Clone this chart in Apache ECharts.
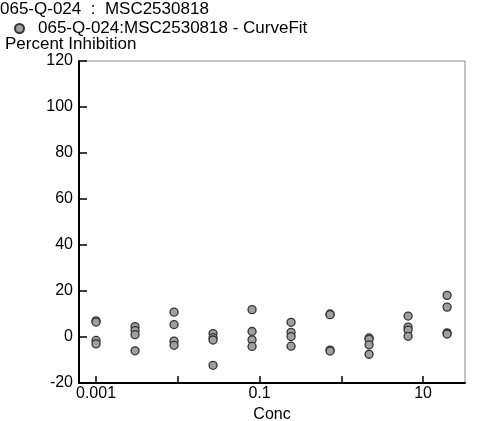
<!DOCTYPE html>
<html>
<head>
<meta charset="utf-8">
<script src="https://cdn.jsdelivr.net/npm/echarts@6/dist/echarts.min.js"></script>
<style>
html,body{margin:0;padding:0;background:#fff;}
#chart{width:500px;height:421px;}
</style>
</head>
<body>
<div id="chart"></div>
<script>
// Data
var titleText = '065-Q-024  :  MSC2530818';
var seriesName = '065-Q-024:MSC2530818 - CurveFit';
var yAxisTitle = 'Percent Inhibition';
var xAxisTitle = 'Conc';
var conc = [0.001, 0.003, 0.009, 0.027, 0.081, 0.243, 0.729, 2.187, 6.561, 19.683];
var rep1 = [7.0, 4.5, 10.8, 1.5, 11.9, 6.4, 10.0, -0.4, 9.1, 18.1];
var rep2 = [6.5, 2.8, 5.4, -0.3, 2.4, 2.0, 9.7, -1.0, 4.3, 13.0];
var rep3 = [-1.5, 1.0, -1.8, -1.3, -1.2, 0.2, -5.7, -3.4, 3.0, 1.8];
var rep4 = [-3.0, -6.0, -3.6, -12.3, -4.1, -4.0, -6.1, -7.5, 0.3, 1.3];
var xTickValues = [0.001, 0.1, 10];
var xTickLabels = ['0.001', '0.1', '10'];
var yTicks = [-20, 0, 20, 40, 60, 80, 100, 120];

var points = [];
[rep1, rep2, rep3, rep4].forEach(function (rep) {
  for (var i = 0; i < conc.length; i++) points.push([conc[i], rep[i]]);
});

var font = 'Liberation Sans, Arial, sans-serif';
var fs = 16;
var fsT = 17;
var chart = echarts.init(document.getElementById('chart'), null, {renderer: 'canvas'});
chart.setOption({
  animation: false,
  backgroundColor: '#fff',
  title: {
    text: titleText, left: 0, top: 1, padding: 0,
    textStyle: {fontFamily: font, fontSize: fsT, fontWeight: 'normal', color: '#000'}
  },
  legend: {
    left: 14, top: 20, padding: 0, itemWidth: 9, itemHeight: 9, itemGap: 0,
    icon: 'circle',
    textStyle: {fontFamily: font, fontSize: fsT, color: '#000', padding: [0, 0, 0, 9]},
    data: [seriesName]
  },
  graphic: [{
    type: 'text', left: 5, top: 36,
    style: {text: yAxisTitle, font: fsT + 'px ' + font, fill: '#000'}
  }],
  grid: {
    left: 79, right: 35, top: 61, bottom: 38,
    outerBoundsMode: 'none', containLabel: false,
    show: true, borderColor: '#888', borderWidth: 1, backgroundColor: 'transparent'
  },
  xAxis: {
    type: 'log', logBase: 10, min: 0.000619, max: 32.6,
    name: xAxisTitle, nameLocation: 'middle', nameGap: 22,
    nameTextStyle: {fontFamily: font, fontSize: fs, color: '#000'},
    axisLine: {show: true, onZero: false, lineStyle: {color: '#000', width: 2}},
    axisTick: {show: true, inside: true, length: 7, lineStyle: {color: '#000', width: 1.5}},
    splitLine: {show: false},
    minorTick: {show: false},
    axisLabel: {
      showMinLabel: false, showMaxLabel: false, margin: 3,
      fontFamily: font, fontSize: fs, color: '#000',
      formatter: function (v) {
        for (var i = 0; i < xTickValues.length; i++) {
          if (Math.abs(Math.log10(v) - Math.log10(xTickValues[i])) < 1e-6) return xTickLabels[i];
        }
        return '';
      }
    }
  },
  yAxis: {
    type: 'value', min: yTicks[0], max: yTicks[yTicks.length - 1], interval: 20,
    axisLine: {show: true, onZero: false, lineStyle: {color: '#000', width: 2}},
    axisTick: {show: true, inside: true, length: 8, lineStyle: {color: '#000', width: 1.5}},
    splitLine: {show: false},
    axisLabel: {margin: 6, fontFamily: font, fontSize: fs, color: '#000'}
  },
  series: [{
    name: seriesName,
    type: 'scatter',
    symbol: 'circle',
    symbolSize: 8,
    itemStyle: {color: '#a0a0a0', borderColor: '#333', borderWidth: 1.3, opacity: 1},
    data: points
  }]
});
</script>
</body>
</html>
